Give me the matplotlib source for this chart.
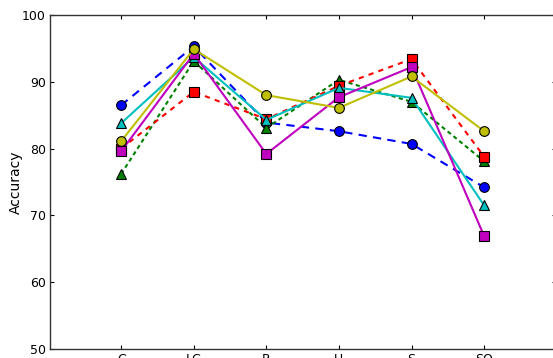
import matplotlib
matplotlib.use('Agg')
import matplotlib.pyplot as plt
import numpy as np

# Categories and accuracy values per method
categories = ['C', 'LC', 'R', 'U', 'S', 'SO']
blue_vals = [86.5, 95.3, 83.9, 82.6, 80.7, 74.2]
green_vals = [76.2, 93.1, 83.1, 90.3, 87.0, 78.1]
red_vals = [80.0, 88.5, 84.4, 89.4, 93.4, 78.8]
cyan_vals = [83.8, 93.7, 84.3, 89.1, 87.6, 71.5]
magenta_vals = [79.6, 94.2, 79.2, 87.7, 92.2, 66.9]
yellow_vals = [81.1, 94.9, 88.0, 86.1, 90.8, 82.6]

x = np.arange(1, len(categories) + 1)

fig = plt.figure(figsize=(5.53, 3.58), dpi=100)
# the axes run slightly past the right edge of the figure, as in the cropped original
ax = fig.add_axes([50 / 553, 0.0251, 506 / 553, 0.933])

# Draw each series
ax.plot(x, blue_vals, color='b', marker='o', dashes=(4, 3), lw=1.5, ms=7, mec='k', mew=0.8)
ax.plot(x, green_vals, color='g', marker='^', dashes=(2, 1.6), lw=1.5, ms=7, mec='k', mew=0.8)
ax.plot(x, red_vals, color='r', marker='s', dashes=(2.5, 2.5), lw=1.5, ms=7, mec='k', mew=0.8)
ax.plot(x, cyan_vals, color='c', marker='^', ls='-', lw=1.5, ms=7, mec='k', mew=0.8)
ax.plot(x, magenta_vals, color='m', marker='s', ls='-', lw=1.5, ms=7, mec='k', mew=0.8)
ax.plot(x, yellow_vals, color='y', marker='o', ls='-', lw=1.5, ms=7, mec='k', mew=0.8)

ax.set_xlim(0.02, 6.99)
ax.set_ylim(50, 100)
ax.set_xticks(x)
ax.set_xticklabels(categories)
ax.set_yticks([50, 60, 70, 80, 90, 100])
ax.tick_params(direction='in', length=3, width=0.8, labelsize=9, pad=3,
               top=True, right=True)
ax.set_ylabel('Accuracy', fontsize=10, labelpad=-1)

for s in ax.spines.values():
    s.set_color('#333333')
    s.set_linewidth(1.0)

fig.savefig('out.png', dpi=100)
